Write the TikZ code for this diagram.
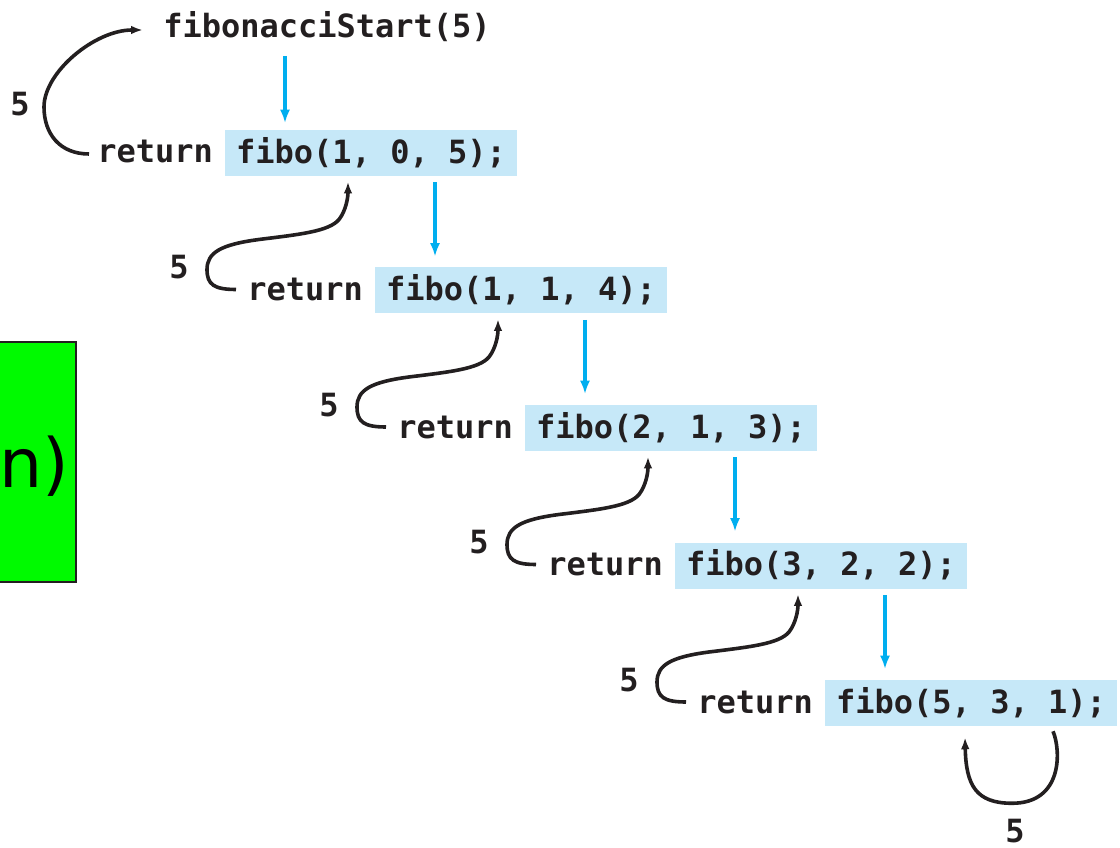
\documentclass[tikz,border=0pt]{standalone}
\usepackage{fontspec}
\newfontfamily\codefont{DejaVu Sans Mono}
\newfontfamily\boxfont{DejaVu Sans}
\usetikzlibrary{arrows.meta,calc}

\definecolor{ink}{RGB}{35,31,32}
\definecolor{callblue}{RGB}{198,232,248}
\definecolor{flowcyan}{RGB}{0,174,239}
\definecolor{notegreen}{RGB}{0,250,0}

\tikzset{
  code/.style={font=\codefont\bfseries\fontsize{24pt}{28pt}\selectfont, text=ink, inner sep=0pt},
  call/.style={code, fill=callblue, minimum width=219pt, minimum height=34.5pt,
               text height=18.2pt, text depth=3.1pt},
  retword/.style={code, anchor=base west},
  retval/.style={code},
  callarrow/.style={draw=flowcyan, line width=2.3pt,
                    -{Latex[length=10pt,width=7.5pt]}},
  retarrow/.style={draw=ink, line width=2.7pt, line join=round,
                   -{Latex[length=9pt,width=6.5pt]}},
  notebox/.style={draw=ink, line width=1.2pt, fill=notegreen}
}

\begin{document}
\begin{tikzpicture}[x=0.75pt,y=-0.75pt]
\useasboundingbox (0,0) rectangle (1120,848);
\clip (0,0) rectangle (1120,848);

% green note box, partly cut off at the left edge
\node[notebox, minimum width=72pt, minimum height=180pt, inner sep=0pt] (note) at (28,462) {};
\node[font=\boxfont\fontsize{51pt}{60pt}\selectfont, anchor=base west, inner sep=0pt] (notetext) at (-1,487) {n)};

% entry call
\node[retword] (start) at (163,38) {fibonacciStart(5)};

% the chain of tail calls
\foreach \i/\args in {1/{1, 0, 5}, 2/{1, 1, 4}, 3/{2, 1, 3}, 4/{3, 2, 2}, 5/{5, 3, 1}} {
  \pgfmathsetmacro\cx{371+150*(\i-1)}
  \pgfmathsetmacro\cy{153+137.5*(\i-1)}
  \pgfmathsetmacro\rx{97+150*(\i-1)}
  \pgfmathsetmacro\ry{163+137.5*(\i-1)}
  \node[call] (b\i) at (\cx,\cy) {fibo(\args);};
  \node[retword] (r\i) at (\rx,\ry) {return};
}

% downward call arrows
\coordinate (in1) at ($(b1.north)+(-86,0)$);
\draw[callarrow, shorten <=10pt, shorten >=5pt] (in1 |- start.south) -- (in1);
\foreach \i/\j in {1/2, 2/3, 3/4, 4/5} {
  \coordinate (o\i) at ($(b\i.south)+(64,0)$);
  \draw[callarrow, shorten <=4.5pt, shorten >=8pt] (o\i) -- (o\i |- b\j.north);
}

% value 5 handed back from the first frame to the entry call
\begin{scope}[shift={(r1.west)}]
  \draw[retarrow] (-8,2) .. controls (-37,2) and (-53,-18) .. (-53,-45)
                  .. controls (-53,-80) and (-2,-122) .. (46,-122);
  \node[retval] (v1) at (-77,-48) {5};
\end{scope}

% value 5 handed back up through each frame
\foreach \i in {2,...,5} {
  \begin{scope}[shift={(r\i.west)}]
    \draw[retarrow] (-11,0) .. controls (-33,0) and (-40,-5) .. (-40,-20)
                    .. controls (-40,-37) and (-26,-45) .. (12,-50)
                    .. controls (52,-55) and (82,-58) .. (92,-70)
                    .. controls (99,-79) and (101,-92) .. (101,-108);
    \node[retval] (v\i) at (-68,-22) {5};
  \end{scope}
}

% base case returns its own value
\begin{scope}[shift={(b5.south)}]
  \draw[retarrow] (82,5) .. controls (90,24) and (92,77) .. (41,77)
                  .. controls (5,77) and (-5,59) .. (-6,11);
\end{scope}
\node[retval] (v6) at (1015,831) {5};
\end{tikzpicture}
\end{document}
